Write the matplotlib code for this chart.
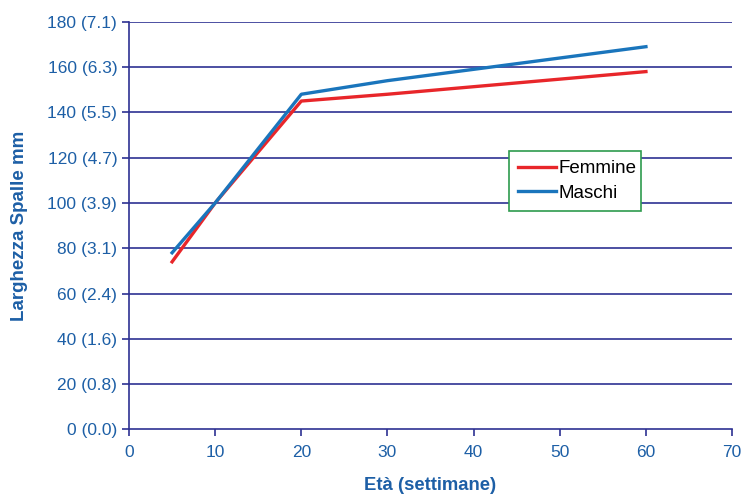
import matplotlib.pyplot as plt

# shoulder width by age
weeks_f = [5, 10, 20, 30, 60]
femmine = [74, 100, 145, 148, 158]
weeks_m = [5, 10, 20, 30, 60]
maschi = [78, 100, 148, 154, 169]

y_ticks = [0, 20, 40, 60, 80, 100, 120, 140, 160, 180]
y_labels = ['0 (0.0)', '20 (0.8)', '40 (1.6)', '60 (2.4)', '80 (3.1)',
            '100 (3.9)', '120 (4.7)', '140 (5.5)', '160 (6.3)', '180 (7.1)']
x_ticks = [0, 10, 20, 30, 40, 50, 60, 70]

navy = '#2e3192'
txt_blue = '#1d5fa6'

plt.rcParams['font.family'] = ['Liberation Sans', 'DejaVu Sans']

fig = plt.figure(figsize=(7.44, 4.95), dpi=100)
ax = fig.add_axes([0.1734, 0.1325, 0.8106, 0.8235])

for y in y_ticks[1:]:
    ax.axhline(y, color=navy, lw=1.2, zorder=1)

ax.plot(weeks_f, femmine, color='#e8262a', lw=2.4, label='Femmine', zorder=3)
ax.plot(weeks_m, maschi, color='#1a75bc', lw=2.4, label='Maschi', zorder=3)

ax.set_xlim(0, 70)
ax.set_ylim(0, 180)
ax.set_xticks(x_ticks)
ax.set_yticks(y_ticks)
ax.set_yticklabels(y_labels)

for s in ['top', 'right']:
    ax.spines[s].set_visible(False)
for s in ['left', 'bottom']:
    ax.spines[s].set_color(navy)
    ax.spines[s].set_linewidth(1.2)
ax.tick_params(axis='both', colors=navy, labelcolor=txt_blue, labelsize=12.5,
               length=5, width=1.2)
ax.tick_params(axis='x', pad=6)

ax.set_xlabel('Età (settimane)', fontsize=13.3, fontweight='bold', color=txt_blue,
              labelpad=12.5)
ax.set_ylabel('Larghezza Spalle mm', fontsize=13.5, fontweight='bold', color=txt_blue,
              labelpad=14)

leg = ax.legend(loc='center', bbox_to_anchor=(0.63, 0.531, 0.219, 0.157),
                mode='expand', fontsize=13.5, frameon=True, fancybox=False,
                borderaxespad=0, handlelength=2.0, handletextpad=0.15,
                labelspacing=0.4, borderpad=0.5)
leg.get_frame().set_edgecolor('#2e9b4e')
leg.get_frame().set_linewidth(1.2)
leg.get_frame().set_alpha(1)

fig.savefig('out.png', dpi=100)
